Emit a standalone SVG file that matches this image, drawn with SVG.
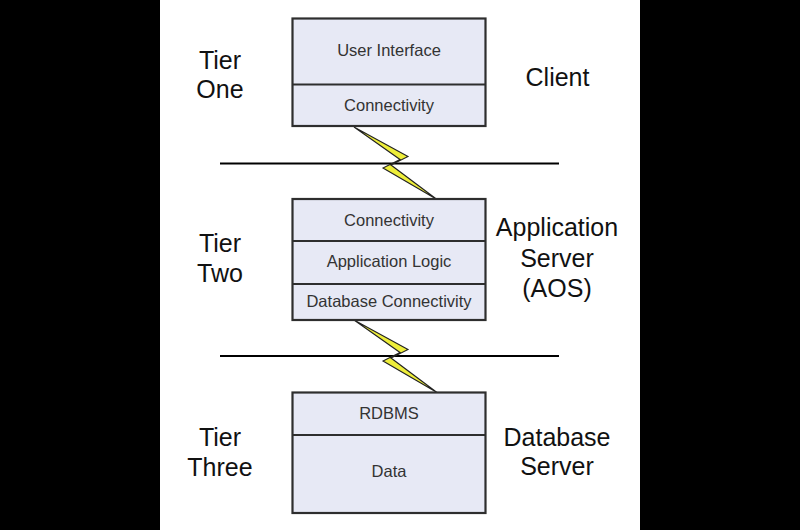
<svg xmlns="http://www.w3.org/2000/svg" width="800" height="530" viewBox="0 0 800 530">
<style>
.box{fill:#e7e9f5;stroke:#2e2e2e;stroke-width:2.2}
.div{stroke:#2e2e2e;stroke-width:2.2}
.bt{font-family:"Liberation Sans",Arial,sans-serif;font-size:16.5px;fill:#333;text-anchor:middle}
.lb{font-family:"Liberation Sans",Arial,sans-serif;font-size:25px;fill:#111;text-anchor:middle}
.net{stroke:#000;stroke-width:2.2}
.bolt{fill:#eeee3a;stroke:#222;stroke-width:1.1;stroke-linejoin:miter}
</style>
<rect x="0" y="0" width="800" height="530" fill="#000"/>
<rect x="160" y="0" width="480" height="530" fill="#fff"/>

<g id="connectors">
<line class="net" x1="220" y1="163.5" x2="559" y2="163.5"/>
<line class="net" x1="220" y1="356" x2="559" y2="356"/>
<polygon class="bolt" points="354,127 408,156.5 391,165 437,199.5 383,168 400,159.5"/>
<polygon class="bolt" points="354,320 408,349.5 391,358 437,392.5 383,361 400,352.5"/>
</g>

<g id="tier-one">
<rect class="box" x="292.5" y="18.5" width="193" height="107.5"/>
<line class="div" x1="292.5" y1="84.5" x2="485.5" y2="84.5"/>
<text class="bt" x="389" y="56">User Interface</text>
<text class="bt" x="389" y="110.5">Connectivity</text>
</g>

<g id="tier-two">
<rect class="box" x="292.5" y="199" width="193" height="121"/>
<line class="div" x1="292.5" y1="241" x2="485.5" y2="241"/>
<line class="div" x1="292.5" y1="284" x2="485.5" y2="284"/>
<text class="bt" x="389" y="225.5">Connectivity</text>
<text class="bt" x="389" y="267">Application Logic</text>
<text class="bt" x="389" y="306.5">Database Connectivity</text>
</g>

<g id="tier-three">
<rect class="box" x="292.5" y="392.5" width="193" height="120.5"/>
<line class="div" x1="292.5" y1="435" x2="485.5" y2="435"/>
<text class="bt" x="389" y="419">RDBMS</text>
<text class="bt" x="389" y="476.5">Data</text>
</g>

<g id="labels">
<text class="lb" x="220" y="69.3">Tier</text>
<text class="lb" x="220" y="98.3">One</text>
<text class="lb" x="557.5" y="86">Client</text>
<text class="lb" x="220" y="251.7">Tier</text>
<text class="lb" x="220" y="281.7">Two</text>
<text class="lb" x="557" y="236">Application</text>
<text class="lb" x="557" y="267">Server</text>
<text class="lb" x="557" y="297">(AOS)</text>
<text class="lb" x="220" y="446">Tier</text>
<text class="lb" x="220" y="476">Three</text>
<text class="lb" x="557" y="446">Database</text>
<text class="lb" x="557" y="475">Server</text>
</g>
</svg>
